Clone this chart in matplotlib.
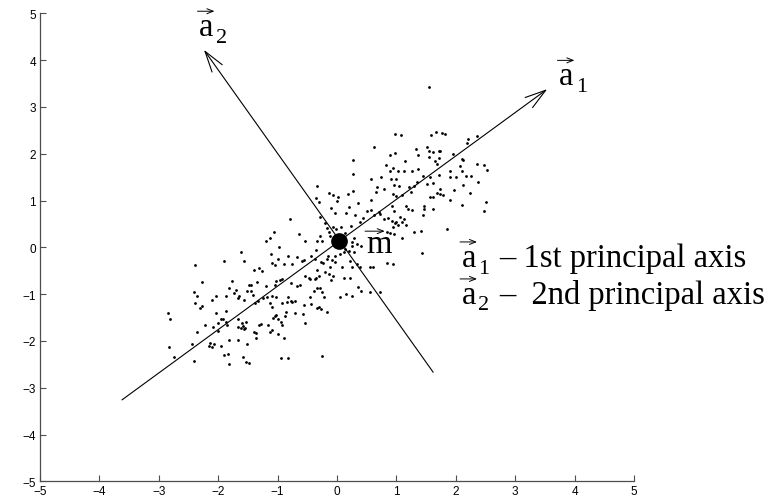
import numpy as np
import matplotlib
matplotlib.use('Agg')
from matplotlib import pyplot as plt
from matplotlib.transforms import offset_copy

plt.rcParams['font.family'] = ['Liberation Sans', 'DejaVu Sans']

# sample points
cloud_pts = [
    (-1.62, -0.09), (-1.57, -0.30), (-2.39, -0.38), (-1.91, -0.29), (-1.39, -0.49), (-1.31, -0.45),
    (-2.28, -0.75), (-1.76, -0.73), (-1.48, -0.81), (-1.44, -0.81), (-1.34, -0.75), (-2.40, -0.95),
    (-1.81, -0.87), (-1.70, -0.91), (-1.52, -0.94), (-1.45, -0.94), (-2.35, -1.05), (-1.73, -0.98),
    (-1.65, -1.03), (-1.67, -1.09), (-1.41, -1.01), (-2.39, -1.18), (-2.28, -1.25), (-2.31, -1.30),
    (-2.10, -1.13), (-2.04, -1.05), (-1.87, -1.05), (-1.56, -1.13), (-1.38, -1.19), (-1.33, -1.14),
    (-2.84, -1.40), (-2.81, -1.54), (-2.04, -1.40), (-1.87, -1.36), (-1.95, -1.54), (-1.92, -1.54),
    (-1.87, -1.60), (-1.85, -1.67), (-2.00, -1.62), (-2.22, -1.67), (-2.08, -1.71), (-1.66, -1.53),
    (-1.60, -1.62), (-1.53, -1.60), (-1.67, -1.71), (-1.62, -1.73), (-1.56, -1.75), (-1.59, -1.69),
    (-1.55, -1.72), (-1.40, -1.80), (-1.37, -1.84), (-1.31, -1.65), (-2.35, -1.80), (-2.01, -1.79),
    (-1.81, -1.97), (-1.67, -1.97), (-1.36, -1.94), (-2.13, -2.04), (-2.16, -2.10), (-2.10, -2.12),
    (-2.07, -2.07), (-2.44, -2.06), (-2.82, -2.12), (-1.95, -2.11), (-1.52, -2.07), (-2.74, -2.35),
    (-1.91, -2.31), (-1.84, -2.27), (-2.40, -2.43), (-1.81, -2.49), (-1.58, -2.35), (-1.54, -2.45),
    (-1.48, -2.47),
    (-0.34, 1.30), (-0.14, 1.17), (-0.07, 1.12), (0.01, 1.07), (0.00, 1.00), (-0.35, 1.06),
    (-0.31, 0.97), (-0.10, 0.85), (-0.03, 0.73), (0.19, 1.13), (0.27, 1.20), (0.35, 0.95),
    (0.21, 0.87), (0.16, 0.73), (0.30, 0.68), (0.38, 0.55), (0.44, 0.62), (0.57, 1.02),
    (0.65, 1.19), (0.50, 0.78), (0.57, 0.80), (0.63, 0.70), (0.71, 0.75), (-0.29, 0.65),
    (-0.20, 0.51), (-0.17, 0.42), (-0.13, 0.32), (-0.06, 0.44), (-0.02, 0.39), (-0.29, 0.25),
    (-0.34, 0.14), (-0.26, 0.14), (0.13, 0.31), (0.23, 0.46), (0.07, 0.44), (0.29, 0.19),
    (0.34, 0.07), (0.40, 0.03), (0.25, 0.12), (0.26, 0.03), (0.29, -0.09), (0.21, -0.07),
    (-0.79, 0.60), (-0.64, 0.29), (-0.54, 0.14), (-1.12, 0.19), (-1.20, 0.14), (-1.06, 0.32),
    (-0.98, 0.00), (-1.11, -0.14), (-0.99, -0.24), (-0.82, -0.19), (-0.76, -0.36), (-0.68, -0.21),
    (-0.59, -0.29), (-0.56, -0.27), (-0.43, -0.18), (-0.37, -0.26), (-0.35, -0.05), (-0.27, -0.32),
    (-0.24, -0.34), (-0.17, -0.25), (-0.15, -0.18), (-0.12, -0.43), (-0.03, -0.32), (-0.21, -0.53),
    (-0.34, -0.48), (-0.31, -0.61), (-0.35, -0.65), (-0.45, -0.68), (-0.37, -0.68), (-0.13, -0.57),
    (-0.06, -0.61), (-0.10, -0.69), (0.08, -0.43), (0.25, -0.43), (0.39, -0.41), (0.56, -0.41),
    (0.61, -0.41), (0.11, -0.66), (0.22, -0.66), (0.36, -0.85), (0.25, -1.03), (0.40, -0.93),
    (0.56, -0.96), (0.72, -0.96), (0.05, -1.07), (0.16, -1.00), (-1.27, -0.50), (-1.20, -0.83),
    (-1.02, -0.71), (-0.93, -0.68), (-1.04, -0.81), (-0.77, -0.76), (-0.68, -0.82), (-0.62, -0.81),
    (-0.54, -0.61), (-0.47, -0.66), (-0.34, -0.88), (-0.39, -0.93), (-0.29, -0.88), (-0.26, -0.96),
    (-0.22, -1.07), (-0.45, -1.06), (-0.44, -1.21), (-0.31, -1.28), (-0.27, -1.32), (-0.34, -1.30),
    (-0.17, -1.39), (-0.56, -1.23), (-0.57, -1.42), (-0.53, -1.62), (-0.71, -1.41), (-0.77, -1.15),
    (-0.82, -1.07), (-0.84, -1.16), (-0.75, -1.16), (-0.71, -1.14), (-0.93, -1.18), (-1.02, -1.07),
    (-1.10, -1.03), (-1.18, -1.07), (-1.13, -1.18), (-1.10, -1.28), (-1.04, -1.46), (-1.07, -1.50),
    (-1.03, -1.45), (-0.99, -1.53), (-0.85, -1.39), (-0.88, -1.46), (-0.94, -1.60), (-0.93, -1.65),
    (-1.16, -1.67), (-1.10, -1.77), (-1.13, -1.80), (-1.28, -1.64), (-0.90, -1.94), (-0.94, -2.36),
    (-0.82, -2.36), (-0.26, -2.32),
    (0.13, -0.04), (0.11, -0.11), (0.05, -0.14), (-0.03, -0.18), (-0.09, -0.27), (0.22, -0.29),
    (0.33, -0.36), (-0.12, 0.25), (0.67, 1.28), (-1.10, -0.34), (-1.04, -0.38), (-0.90, -0.36),
    (-0.96, -0.70), (-1.24, -1.09), (-1.00, -1.85),
    (1.55, 3.42), (0.97, 2.42), (1.08, 2.40), (1.67, 2.46), (1.59, 2.39), (1.76, 2.44),
    (1.82, 2.42), (2.20, 2.31), (2.19, 2.23), (2.35, 2.38), (1.33, 2.10), (1.51, 2.14),
    (1.55, 2.06), (1.61, 2.04), (1.71, 2.06), (1.73, 2.05), (0.90, 1.98), (0.98, 2.02),
    (1.14, 1.85), (1.36, 1.97), (1.55, 1.94), (1.65, 1.85), (1.71, 1.91), (1.69, 1.78),
    (1.95, 1.99), (2.10, 1.88), (2.13, 1.87), (2.07, 1.73), (2.36, 1.78), (2.48, 1.76),
    (2.53, 1.66), (0.82, 1.76), (0.95, 1.69), (0.89, 1.62), (1.03, 1.62), (1.13, 1.62),
    (1.26, 1.62), (1.37, 1.67), (1.44, 1.53), (1.57, 1.50), (1.71, 1.54), (1.90, 1.64),
    (1.91, 1.50), (2.01, 1.50), (2.10, 1.62), (2.18, 1.53), (2.25, 1.53), (2.13, 1.33),
    (2.38, 1.40), (0.74, 1.50), (0.79, 1.25), (0.91, 1.45), (0.99, 1.46), (0.96, 1.33),
    (1.05, 1.30), (1.22, 1.28), (1.30, 1.32), (1.34, 1.39), (1.51, 1.35), (1.62, 1.37),
    (1.73, 1.25), (1.97, 1.23), (0.94, 1.14), (1.00, 1.09), (1.09, 1.12), (1.24, 1.19),
    (1.57, 1.08), (1.62, 1.08), (1.69, 1.15), (1.74, 1.14), (1.79, 1.12), (2.24, 1.15),
    (1.90, 1.02), (2.10, 0.91), (2.51, 0.97), (2.48, 0.78), (0.92, 0.89), (0.96, 0.78),
    (1.17, 0.88), (1.20, 0.82), (1.26, 0.80), (1.47, 0.88), (1.47, 0.82), (1.62, 0.82),
    (1.45, 0.68), (1.86, 0.39), (0.72, 0.71), (0.79, 0.61), (0.86, 0.62), (0.93, 0.57),
    (1.00, 0.55), (1.06, 0.64), (1.09, 0.55), (1.13, 0.61), (1.17, 0.48), (0.98, 0.52),
    (0.94, 0.43), (1.03, 0.47), (1.30, 0.33), (1.41, 0.35), (0.84, 0.32), (0.89, 0.31),
    (0.96, 0.28), (1.10, 0.19), (1.43, -0.13), (0.84, -0.34), (0.94, -0.36),
    (0.63, 2.14), (0.27, 1.87), (0.27, 1.57), (0.58, 1.47),
]

mean_pt = (0.04, 0.14)
a1_start = (-3.62, -3.26)
a1_end = (3.54, 3.38)
a2_start = (1.62, -2.67)
a2_end = (-2.24, 4.22)
ticks = list(range(-5, 6))

# vector labels: (x, y, letter, subscript)
vec_labels = [(3.74, 3.49, 'a', '1'), (-2.32, 4.54, 'a', '2'), (0.50, -0.10, 'm', ''),
              (2.10, -0.39, 'a', '1'), (2.10, -1.18, 'a', '2')]
legend_text = [(2.74, -0.39, '– 1st principal axis'), (2.74, -1.18, '–  2nd principal axis')]

fig = plt.figure(figsize=(7.72, 5.02), dpi=100)
ax = fig.add_axes([0.0518, 0.0392, 0.7694, 0.9323])

cx, cy = np.array(cloud_pts).T
ax.scatter(cx, cy, s=4, c='k', marker='o', linewidths=0)

arrow_kw = dict(arrowstyle='->, head_length=1.5, head_width=0.45', lw=0.8,
                color='k', shrinkA=0, shrinkB=0)
ax.annotate('', xy=a1_end, xytext=a1_start, arrowprops=arrow_kw)
ax.annotate('', xy=a2_end, xytext=a2_start, arrowprops=arrow_kw)
ax.plot(*mean_pt, 'ko', markersize=11)

serif = ['Liberation Serif', 'DejaVu Serif']
accent_kw = dict(arrowstyle='->, head_length=0.45, head_width=0.18', lw=0.7,
                 color='k', shrinkA=0, shrinkB=0)
for x, y, letter, sub in vec_labels:
    ax.text(x, y, letter, fontsize=23.5, family=serif, va='baseline')
    # little arrow over the letter
    lift = 15 if letter == 'm' else 17
    x1 = 13 if letter == 'm' else 11
    t0 = offset_copy(ax.transData, fig=fig, x=-1.2, y=lift, units='points')
    t1 = offset_copy(ax.transData, fig=fig, x=x1, y=lift, units='points')
    ax.annotate('', xy=(x, y), xycoords=t1, xytext=(x, y), textcoords=t0,
                arrowprops=accent_kw)
    if sub:
        ax.annotate(sub, (x, y), xytext=(12, -5), textcoords='offset points',
                    fontsize=16, family=serif, va='baseline')
for x, y, s in legend_text:
    ax.text(x, y, s, fontsize=23.5, family=serif, va='baseline')

ax.set_xlim(-5, 5)
ax.set_ylim(-5, 5)
ax.set_xticks(ticks)
ax.set_yticks(ticks)
ax.spines['top'].set_visible(False)
ax.spines['right'].set_visible(False)
for s in ['left', 'bottom']:
    ax.spines[s].set_color('0.3')
    ax.spines[s].set_linewidth(0.9)
ax.tick_params(direction='in', length=4, width=0.8, color='0.3', labelsize=8.5, pad=3)

fig.savefig('out.png', dpi=100)
